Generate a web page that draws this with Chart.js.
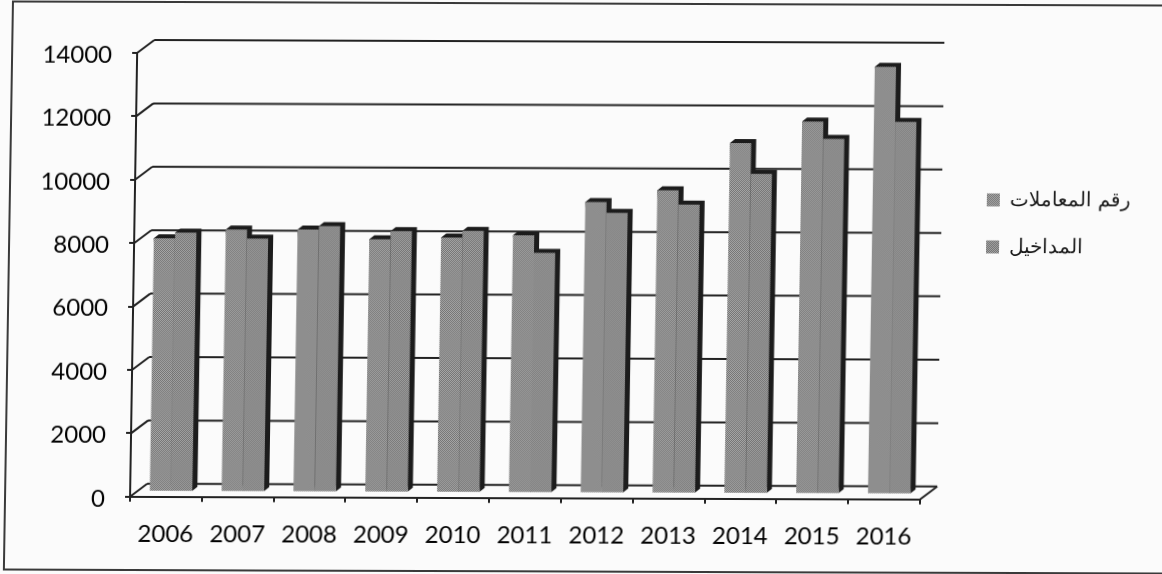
<!DOCTYPE html>
<html lang="ar">
<head>
<meta charset="utf-8">
<title>chart</title>
<script src="https://cdn.jsdelivr.net/npm/chart.js@4/dist/chart.umd.min.js"></script>
<style>
  html, body { margin: 0; padding: 0; width: 1162px; height: 574px; overflow: hidden; background: #fbfbfb; }
  /* the scan leans a little: vertical lines drift left going down, horizontals drift down going right */
  #sheet { position: absolute; left: 0; top: 0; width: 1230px; height: 574px;
           transform-origin: 0 0; transform: matrix(1, 0.0035, -0.016, 1, 8, -0.5); }
  #frame { position: absolute; left: 4px; top: 1px; width: 1220px; height: 566px; border: 2px solid #3a3a3a; }
  #chBars { position: absolute; left: 0; top: 0; }
</style>
</head>
<body>
<div id="sheet">
  <div id="frame"></div>
  <canvas id="chBars" width="1162" height="574"></canvas>
</div>
<script>
const years = ['2006', '2007', '2008', '2009', '2010', '2011', '2012', '2013', '2014', '2015', '2016'];
const turnover = [8000, 8280, 8290, 7990, 8050, 8130, 9190, 9570, 11070, 11750, 13490]; // رقم المعاملات
const revenue = [8180, 8000, 8400, 8250, 8270, 7580, 8850, 9120, 10100, 11210, 11750];   // المداخيل
const seriesNames = ['رقم المعاملات', 'المداخيل'];
const yTicks = [0, 2000, 4000, 6000, 8000, 10000, 12000, 14000];

const WALL_DX = 17, WALL_DY = -13;   // front axis -> back wall
const BAR_DX = 5, BAR_DY = -5;       // bars stand a bit inside the floor
const SIDE_DX = 5, SIDE_DY = -4;     // bar depth
const INK = '#222222';

// halftone look of the scan
function halftone(a, b) {
    const c = document.createElement('canvas');
    c.width = 2; c.height = 2;
    const x = c.getContext('2d');
    x.fillStyle = a; x.fillRect(0, 0, 2, 2);
    x.fillStyle = b; x.fillRect(0, 0, 1, 1); x.fillRect(1, 1, 1, 1);
    return x.createPattern(c, 'repeat');
}

function line(ctx, x1, y1, x2, y2) {
    ctx.beginPath(); ctx.moveTo(x1, y1); ctx.lineTo(x2, y2); ctx.stroke();
}

const walls3d = {
    id: 'walls3d',
    beforeLayout(chart) {
        // keep the plot width fixed whatever the legend text measures
        const lg = chart.legend;
        if (!lg._fitWrapped) {
            const fit = lg.fit;
            lg.fit = function () { fit.call(this); this.width = 242; };
            lg._fitWrapped = true;
        }
    },
    afterLayout(chart) {
        // legend sits away from the plot
        const lg = chart.legend;
        lg.left = 955; lg.right = lg.left + 200;
        lg.top = 0; lg.bottom = 441;
        lg.height = 441;
        lg.adjustHitBoxes();
    },
    beforeDatasetsDraw(chart) {
        const { ctx, chartArea, scales } = chart;
        ctx.save();
        ctx.strokeStyle = INK;
        ctx.lineWidth = 2;
        yTicks.forEach(v => {
            const y = scales.y.getPixelForValue(v);
            line(ctx, chartArea.left, y, chartArea.left + WALL_DX, y + WALL_DY);
            line(ctx, chartArea.left + WALL_DX, y + WALL_DY, chartArea.right + WALL_DX, y + WALL_DY);
        });
        const y0 = scales.y.getPixelForValue(0);
        line(ctx, chartArea.right, y0, chartArea.right + WALL_DX, y0 + WALL_DY);
        ctx.restore();

        // dark sides and tops, faces are painted over them by the library
        ctx.save();
        ctx.translate(BAR_DX, BAR_DY);
        ctx.fillStyle = '#1c1c1c';
        for (let j = years.length - 1; j >= 0; j--) {
            [1, 0].forEach(i => {
                const b = chart.getDatasetMeta(i).data[j];
                const l = b.x - b.width / 2, r = b.x + b.width / 2;
                ctx.beginPath();
                ctx.moveTo(r, b.base);
                ctx.lineTo(r + SIDE_DX, b.base + SIDE_DY);
                ctx.lineTo(r + SIDE_DX, b.y + SIDE_DY);
                ctx.lineTo(l + SIDE_DX, b.y + SIDE_DY);
                ctx.lineTo(l, b.y);
                ctx.closePath();
                ctx.fill();
            });
        }
        ctx.restore();

        ctx.save();
        ctx.translate(BAR_DX, BAR_DY);
    },
    afterDatasetsDraw(chart) {
        chart.ctx.restore();
    }
};

const chart = new Chart(document.getElementById('chBars').getContext('2d'), {
    type: 'bar',
    plugins: [walls3d],
    data: {
        labels: years,
        datasets: [
            { label: seriesNames[0], data: turnover, backgroundColor: halftone('#a8a8a8', '#747474'), borderWidth: 0 },
            { label: seriesNames[1], data: revenue, backgroundColor: halftone('#a5a5a5', '#717171'), borderWidth: 0 }
        ]
    },
    options: {
        responsive: false,
        animation: false,
        layout: { padding: { top: 53, bottom: 7.4, left: 0, right: 0 } },
        datasets: { bar: { categoryPercentage: 0.592, barPercentage: 1 } },
        scales: {
            x: {
                grid: { drawOnChartArea: false, tickLength: 5, color: INK, lineWidth: 2 },
                border: { color: INK, width: 2 },
                ticks: { color: '#000000', padding: 18, maxRotation: 0, font: { family: 'Lato', size: 24 } }
            },
            y: {
                min: 0,
                max: 14000,
                afterFit(scale) { scale.width = 130; },
                afterBuildTicks(scale) { scale.ticks = yTicks.map(v => ({ value: v })); },
                grid: { drawOnChartArea: false, tickLength: 5, color: INK, lineWidth: 2 },
                border: { color: INK, width: 2 },
                ticks: { color: '#000000', padding: 20, labelOffset: 2, font: { family: 'Lato', size: 24 }, callback: v => String(v) }
            }
        },
        plugins: {
            tooltip: { enabled: false },
            legend: {
                position: 'right',
                labels: {
                    color: '#1a1a1a',
                    boxWidth: 13,
                    boxHeight: 13,
                    padding: 27,
                    font: { family: 'Liberation Sans', size: 20 }
                }
            }
        }
    }
});
</script>
</body>
</html>
